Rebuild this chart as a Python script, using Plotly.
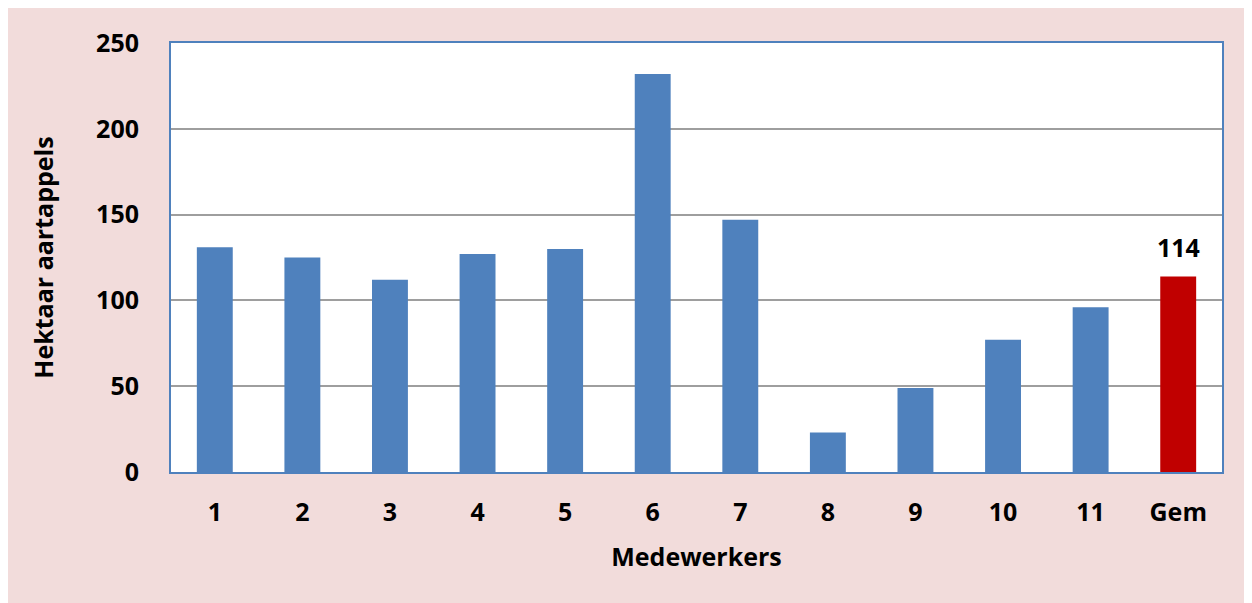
import plotly.graph_objects as go

categories = ["1", "2", "3", "4", "5", "6", "7", "8", "9", "10", "11", "Gem"]
hectares = [131, 125, 112, 127, 130, 232, 147, 23, 49, 77, 96, 114]
bar_colors = ["#4F81BD"] * 11 + ["#C00000"]

font_family = "'Open Sans', Lato, sans-serif"

fig = go.Figure(
    go.Bar(
        x=categories,
        y=hectares,
        marker=dict(color=bar_colors, line=dict(width=0)),
        width=0.41,
    )
)

# label the average bar
fig.add_annotation(
    x=categories[-1], y=hectares[-1], text=str(hectares[-1]),
    showarrow=False, yanchor="bottom", yshift=10,
    font=dict(family=font_family, size=25, color="black", weight="bold"),
)

fig.update_layout(
    width=1252,
    height=603,
    margin=dict(l=163, r=38, t=35, b=139),
    paper_bgcolor="#F2DCDB",
    plot_bgcolor="white",
    showlegend=False,
    font=dict(family=font_family, size=25, color="black", weight="bold"),
)
fig.update_xaxes(
    showline=True, linecolor="#4F81BD", linewidth=2, mirror=True,
    ticks="", ticklabelstandoff=17,
    tickfont=dict(size=25, weight="bold"),
    title=dict(text="Medewerkers", font=dict(size=25, weight="bold"), standoff=21),
)
fig.update_yaxes(
    range=[0, 250], dtick=50,
    showline=True, linecolor="#4F81BD", linewidth=2, mirror=True,
    showgrid=True, gridcolor="#9E9E9E", gridwidth=2,
    zeroline=False,
    ticks="", ticklabelstandoff=25,
    tickfont=dict(size=25, weight="bold"),
    title=dict(text="Hektaar aartappels", font=dict(size=25, weight="bold"), standoff=35),
)

fig.write_html("out.html")
